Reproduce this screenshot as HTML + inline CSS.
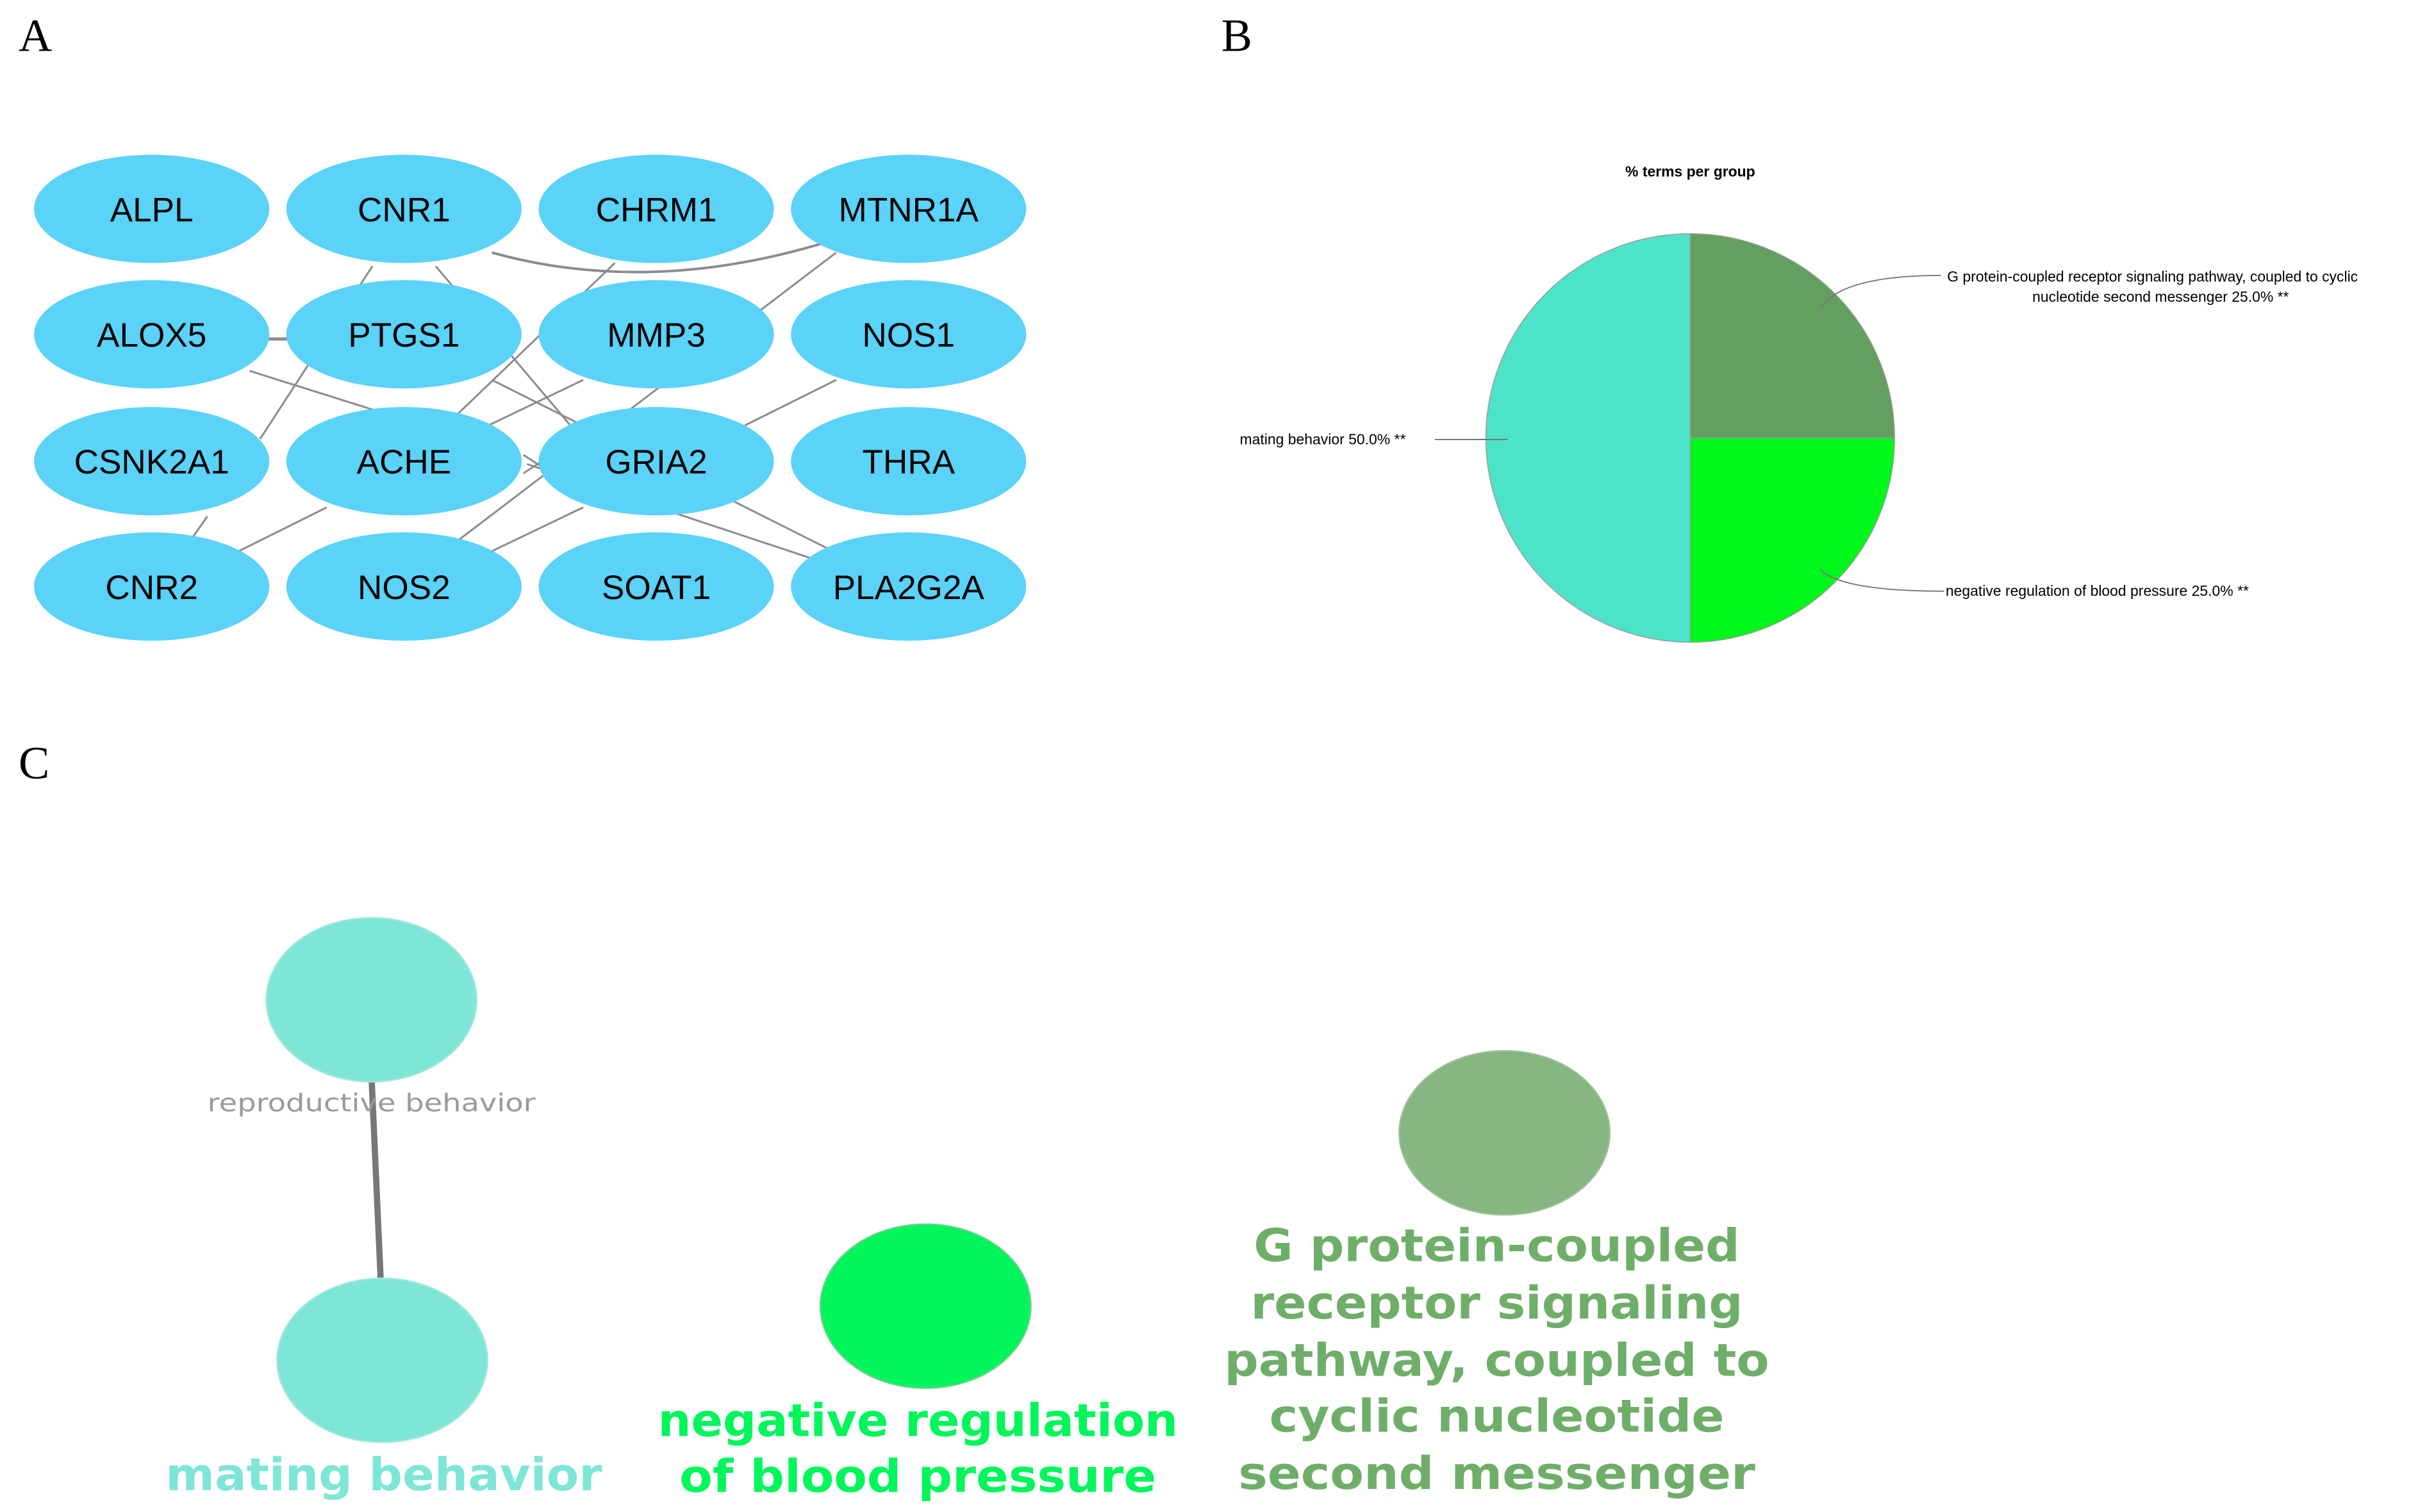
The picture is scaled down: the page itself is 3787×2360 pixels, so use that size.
<!DOCTYPE html>
<html><head><meta charset="utf-8"><style>html,body{margin:0;padding:0;background:#fff;}svg{display:block}</style></head>
<body>
<svg width="3787" height="2360" viewBox="0 0 1568 977" preserveAspectRatio="none" xmlns="http://www.w3.org/2000/svg">
<rect width="1568" height="977" fill="#fff"/>
<g font-family="Liberation Serif, serif" font-size="30" fill="#000">
<text x="12" y="33">A</text><text x="789" y="33">B</text><text x="12" y="503">C</text>
</g>
<!-- Panel A edges -->
<g transform="scale(0.454 0.294)" stroke="#8c8c8c" stroke-width="3" fill="none" vector-effect="non-scaling-stroke">
<path d="M700,555 Q920,650 1170,535" vector-effect="non-scaling-stroke" stroke-width="4"/>
<line x1="875" y1="578" x2="650" y2="912" vector-effect="non-scaling-stroke"/>
<line x1="1190" y1="555" x2="650" y2="1190" vector-effect="non-scaling-stroke"/>
<line x1="530" y1="585" x2="370" y2="965" vector-effect="non-scaling-stroke"/>
<line x1="620" y1="585" x2="820" y2="950" vector-effect="non-scaling-stroke"/>
<line x1="700" y1="835" x2="1190" y2="1215" vector-effect="non-scaling-stroke"/>
<line x1="750" y1="1020" x2="1170" y2="1235" vector-effect="non-scaling-stroke"/>
<line x1="380" y1="745" x2="420" y2="745" vector-effect="non-scaling-stroke" stroke-width="5"/>
<line x1="355" y1="815" x2="540" y2="905" vector-effect="non-scaling-stroke"/>
<line x1="830" y1="835" x2="695" y2="935" vector-effect="non-scaling-stroke"/>
<line x1="1190" y1="835" x2="1060" y2="935" vector-effect="non-scaling-stroke"/>
<line x1="830" y1="1115" x2="695" y2="1215" vector-effect="non-scaling-stroke"/>
<line x1="465" y1="1115" x2="335" y2="1215" vector-effect="non-scaling-stroke"/>
<line x1="295" y1="1135" x2="270" y2="1190" vector-effect="non-scaling-stroke"/>
<line x1="745" y1="1000" x2="785" y2="1040" vector-effect="non-scaling-stroke"/>
<line x1="745" y1="1040" x2="785" y2="1000" vector-effect="non-scaling-stroke"/>
</g>
<!-- Panel A nodes -->
<g fill="#5bd2f7">
<ellipse cx="98" cy="135" rx="76" ry="35"/><ellipse cx="261" cy="135" rx="76" ry="35"/><ellipse cx="424" cy="135" rx="76" ry="35"/><ellipse cx="587" cy="135" rx="76" ry="35"/>
<ellipse cx="98" cy="216" rx="76" ry="35"/><ellipse cx="261" cy="216" rx="76" ry="35"/><ellipse cx="424" cy="216" rx="76" ry="35"/><ellipse cx="587" cy="216" rx="76" ry="35"/>
<ellipse cx="98" cy="298" rx="76" ry="35"/><ellipse cx="261" cy="298" rx="76" ry="35"/><ellipse cx="424" cy="298" rx="76" ry="35"/><ellipse cx="587" cy="298" rx="76" ry="35"/>
<ellipse cx="98" cy="379" rx="76" ry="35"/><ellipse cx="261" cy="379" rx="76" ry="35"/><ellipse cx="424" cy="379" rx="76" ry="35"/><ellipse cx="587" cy="379" rx="76" ry="35"/>
</g>
<g font-family="Liberation Sans, sans-serif" font-size="22" fill="#000" text-anchor="middle">
<text x="98" y="143">ALPL</text><text x="261" y="143">CNR1</text><text x="424" y="143">CHRM1</text><text x="587" y="143">MTNR1A</text>
<text x="98" y="224">ALOX5</text><text x="261" y="224">PTGS1</text><text x="424" y="224">MMP3</text><text x="587" y="224">NOS1</text>
<text x="98" y="306">CSNK2A1</text><text x="261" y="306">ACHE</text><text x="424" y="306">GRIA2</text><text x="587" y="306">THRA</text>
<text x="98" y="387">CNR2</text><text x="261" y="387">NOS2</text><text x="424" y="387">SOAT1</text><text x="587" y="387">PLA2G2A</text>
</g>
<!-- Panel B -->
<text x="1092" y="114" font-family="Liberation Sans, sans-serif" font-size="9.5" font-weight="bold" text-anchor="middle">% terms per group</text>
<path d="M1092,283 L1092,151 A132,132 0 0 0 1092,415 Z" fill="#4ce3c9" stroke="#9a9a9a" stroke-width="0.6"/>
<path d="M1092,283 L1092,151 A132,132 0 0 1 1224,283 Z" fill="#63a060" stroke="#9a9a9a" stroke-width="0.6"/>
<path d="M1092,283 L1224,283 A132,132 0 0 1 1092,415 Z" fill="#00f71b" stroke="#9a9a9a" stroke-width="0.6"/>
<g stroke="#777" stroke-width="0.8" fill="none">
<line x1="927" y1="284" x2="974" y2="284"/>
<path d="M1176,199 Q1190,178 1254,178"/>
<path d="M1176,368 Q1190,382 1256,382"/>
</g>
<g font-family="Liberation Sans, sans-serif" font-size="9.5" fill="#000">
<text x="801" y="287">mating behavior 50.0% **</text>
<text x="1258" y="182">G protein-coupled receptor signaling pathway, coupled to cyclic</text>
<text x="1313" y="195">nucleotide second messenger 25.0% **</text>
<text x="1257" y="385">negative regulation of blood pressure 25.0% **</text>
</g>
<!-- Panel C -->
<line x1="240" y1="695" x2="246" y2="828" stroke="#777" stroke-width="4"/>
<ellipse cx="240" cy="646" rx="68" ry="53" fill="#7ee6d6" stroke="#a5e8dc" stroke-width="1"/>
<ellipse cx="247" cy="879" rx="68" ry="53" fill="#7ee6d6" stroke="#a5e8dc" stroke-width="1"/>
<ellipse cx="598" cy="844" rx="68" ry="53" fill="#00f65a" stroke="#70d090" stroke-width="1"/>
<ellipse cx="972" cy="732" rx="68" ry="53" fill="#86b682" stroke="#9cc098" stroke-width="1"/>
<text x="240" y="718" font-family="DejaVu Sans, sans-serif" font-size="16" fill="#9a9a9a" text-anchor="middle" textLength="212" lengthAdjust="spacingAndGlyphs">reproductive behavior</text>
<g font-family="DejaVu Sans, sans-serif" font-weight="bold" font-size="29" text-anchor="middle">
<text x="248" y="963" fill="#7ee6d6" textLength="282" lengthAdjust="spacingAndGlyphs">mating behavior</text>
<text x="593" y="928" fill="#00f65a" textLength="336" lengthAdjust="spacingAndGlyphs">negative regulation</text>
<text x="593" y="964" fill="#00f65a" textLength="308" lengthAdjust="spacingAndGlyphs">of blood pressure</text>
<g fill="#6fae69">
<text x="967" y="815" textLength="314" lengthAdjust="spacingAndGlyphs">G protein-coupled</text>
<text x="967" y="852" textLength="318" lengthAdjust="spacingAndGlyphs">receptor signaling</text>
<text x="967" y="889" textLength="352" lengthAdjust="spacingAndGlyphs">pathway, coupled to</text>
<text x="967" y="925" textLength="294" lengthAdjust="spacingAndGlyphs">cyclic nucleotide</text>
<text x="967" y="962" textLength="334" lengthAdjust="spacingAndGlyphs">second messenger</text>
</g>
</g>
</svg>
</body></html>
